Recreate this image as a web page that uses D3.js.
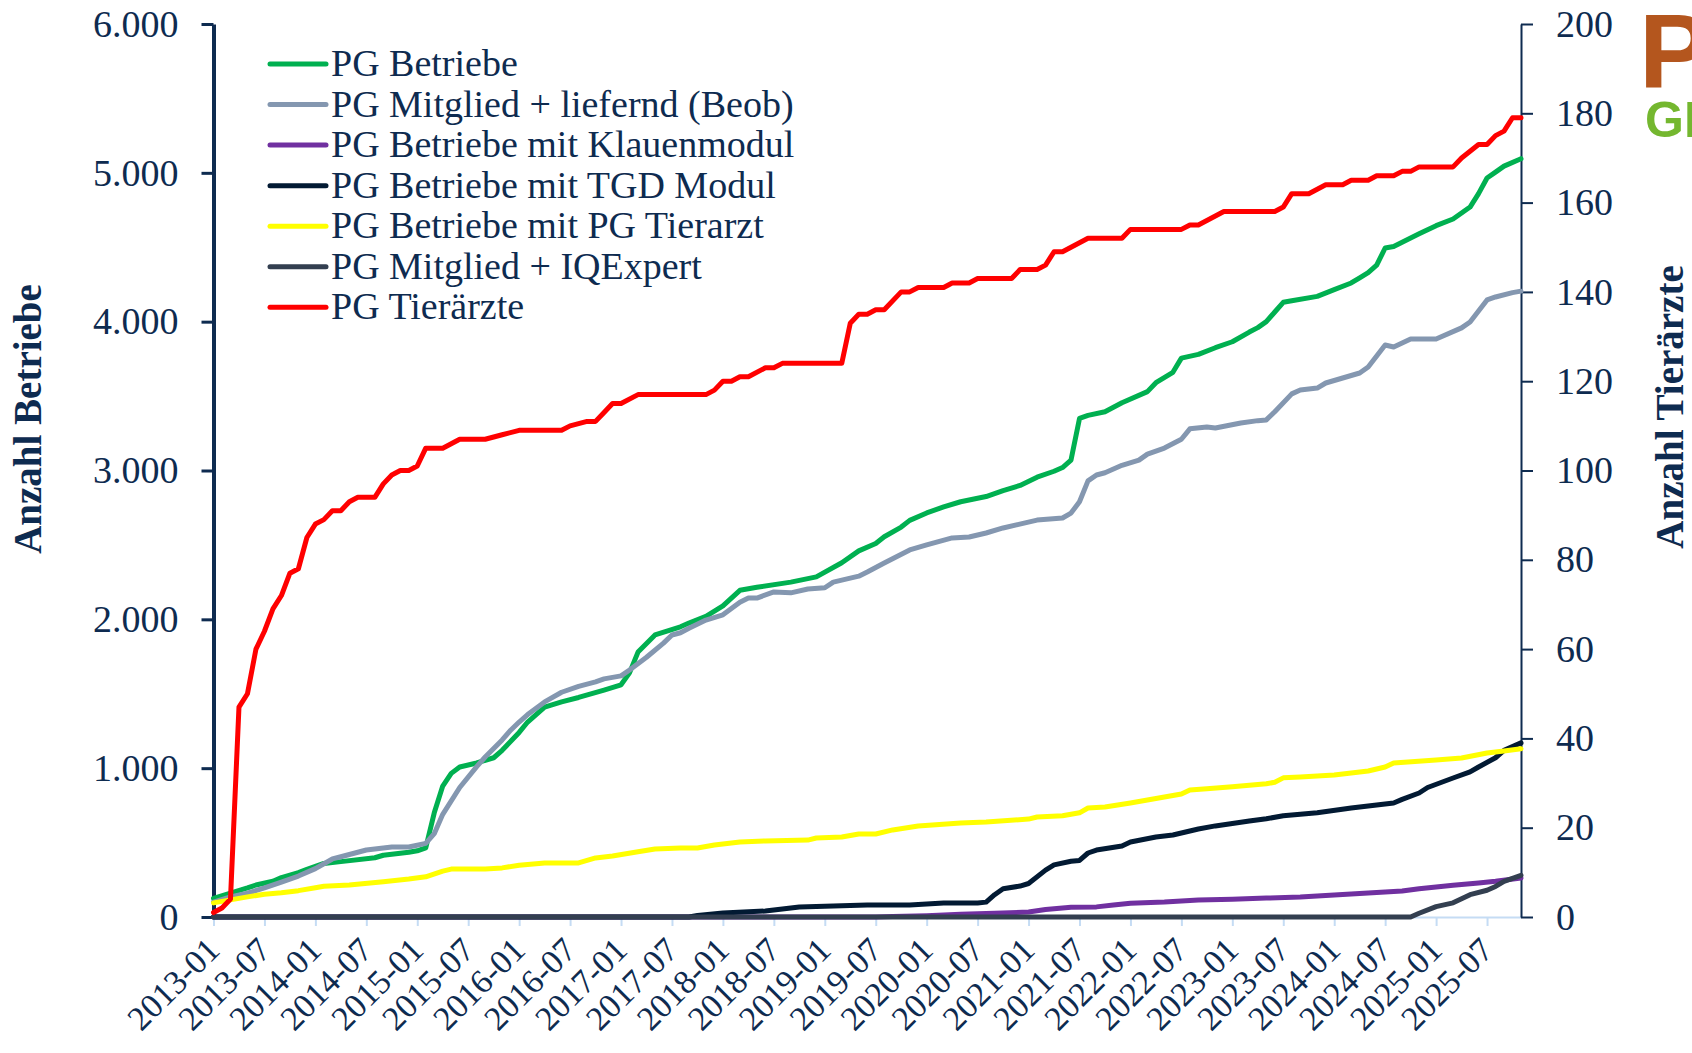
<!DOCTYPE html>
<html>
<head>
<meta charset="utf-8">
<script src="https://cdn.jsdelivr.net/npm/d3@7"></script>
<style>
  html, body { margin: 0; padding: 0; background: #fff; overflow: hidden; }
  svg text { font-family: "Liberation Serif", "Times New Roman", serif; fill: #0e2b50; }
</style>
</head>
<body>
<svg id="chart" width="1692" height="1053"></svg>
<script>
// category range of the x axis (monthly)
var firstMonth = "2013-01", lastMonth = "2025-11";
var tickLabels = ["2013-01","2013-07","2014-01","2014-07","2015-01","2015-07","2016-01","2016-07",
  "2017-01","2017-07","2018-01","2018-07","2019-01","2019-07","2020-01","2020-07","2021-01","2021-07",
  "2022-01","2022-07","2023-01","2023-07","2024-01","2024-07","2025-01","2025-07"];
var leftTicks = [0, 1000, 2000, 3000, 4000, 5000, 6000];
var rightTicks = [0, 20, 40, 60, 80, 100, 120, 140, 160, 180, 200];

// series at the months where the line bends
var pgBetriebe = [["2013-01",125],["2013-03",160],["2013-05",195],["2013-06",215],["2013-08",240],["2013-09",265],
  ["2013-11",298],["2013-12",320],["2014-02",360],["2014-04",372],["2014-08",398],["2014-09",415],["2014-12",435],
  ["2015-01",445],["2015-02",465],["2015-03",700],["2015-04",880],["2015-05",965],["2015-06",1008],["2015-08",1035],
  ["2015-10",1070],["2015-11",1120],["2016-01",1240],["2016-02",1310],["2016-04",1410],["2016-06",1445],["2016-08",1475],
  ["2016-11",1525],["2017-01",1560],["2017-02",1640],["2017-03",1780],["2017-05",1895],["2017-08",1950],["2017-09",1975],
  ["2017-11",2020],["2018-01",2090],["2018-03",2195],["2018-05",2215],["2018-09",2250],["2018-12",2285],["2019-03",2380],
  ["2019-05",2460],["2019-07",2510],["2019-08",2555],["2019-10",2620],["2019-11",2665],["2020-01",2715],["2020-03",2755],
  ["2020-05",2790],["2020-08",2825],["2020-10",2865],["2020-12",2900],["2021-02",2955],["2021-04",2995],["2021-05",3020],
  ["2021-06",3070],["2021-07",3350],["2021-08",3370],["2021-10",3395],["2021-12",3455],["2022-03",3530],["2022-04",3590],
  ["2022-06",3660],["2022-07",3755],["2022-09",3780],["2022-11",3825],["2023-01",3865],["2023-03",3930],["2023-04",3960],
  ["2023-05",4000],["2023-06",4065],["2023-07",4130],["2023-08",4140],["2023-11",4170],["2024-01",4215],["2024-03",4260],
  ["2024-04",4295],["2024-05",4330],["2024-06",4380],["2024-07",4495],["2024-08",4505],["2024-11",4590],["2025-01",4645],
  ["2025-03",4690],["2025-05",4770],["2025-06",4860],["2025-07",4965],["2025-08",5005],["2025-09",5045],["2025-11",5095]];

var pgMitgliedLiefernd = [["2013-01",100],["2013-03",135],["2013-05",160],["2013-07",195],["2013-09",235],["2013-11",275],
  ["2014-01",325],["2014-03",390],["2014-04",405],["2014-07",450],["2014-10",470],["2014-12",470],["2015-02",495],
  ["2015-03",560],["2015-04",690],["2015-06",870],["2015-08",1010],["2015-09",1075],["2015-11",1190],["2015-12",1255],
  ["2016-01",1310],["2016-02",1360],["2016-04",1445],["2016-06",1510],["2016-08",1550],["2016-10",1580],["2016-11",1600],
  ["2017-01",1620],["2017-02",1660],["2017-04",1745],["2017-06",1840],["2017-07",1895],["2017-08",1910],["2017-09",1940],
  ["2017-11",1995],["2018-01",2030],["2018-03",2115],["2018-04",2143],["2018-05",2143],["2018-07",2184],["2018-09",2178],
  ["2018-11",2204],["2019-01",2212],["2019-02",2250],["2019-05",2290],["2019-06",2318],["2019-08",2378],["2019-11",2466],
  ["2020-01",2500],["2020-04",2547],["2020-06",2553],["2020-08",2580],["2020-10",2614],["2021-02",2667],["2021-05",2681],
  ["2021-06",2714],["2021-07",2790],["2021-08",2930],["2021-09",2970],["2021-10",2985],["2021-12",3035],["2022-02",3070],
  ["2022-03",3110],["2022-05",3151],["2022-07",3210],["2022-08",3280],["2022-10",3292],["2022-11",3286],["2023-02",3319],
  ["2023-04",3335],["2023-05",3340],["2023-06",3395],["2023-08",3515],["2023-09",3541],["2023-11",3554],["2023-12",3588],
  ["2024-04",3655],["2024-05",3696],["2024-07",3843],["2024-08",3830],["2024-10",3884],["2025-01",3884],["2025-04",3958],
  ["2025-05",3998],["2025-07",4146],["2025-08",4166],["2025-10",4195],["2025-11",4205]];

var pgKlauenmodul = [["2013-01",0],["2019-07",0],["2019-09",3],["2020-01",8],["2020-05",18],["2020-09",25],["2021-01",33],
  ["2021-03",50],["2021-06",65],["2021-09",68],["2021-11",80],["2022-01",93],["2022-05",100],["2022-09",114],["2023-01",120],
  ["2023-05",127],["2023-09",134],["2024-01",148],["2024-05",161],["2024-09",175],["2024-11",190],["2025-01",202],
  ["2025-03",213],["2025-06",228],["2025-08",240],["2025-11",262]];

var pgTgdModul = [["2013-01",0],["2017-09",0],["2017-10",10],["2018-01",27],["2018-06",40],["2018-10",67],["2019-02",74],
  ["2019-06",81],["2019-11",81],["2020-03",94],["2020-07",94],["2020-08",100],["2020-09",150],["2020-10",190],["2020-12",208],
  ["2021-01",225],["2021-03",315],["2021-04",350],["2021-06",375],["2021-07",380],["2021-08",430],["2021-09",450],
  ["2021-12",477],["2022-01",504],["2022-04",538],["2022-06",551],["2022-08",578],["2022-09",591],["2022-11",612],
  ["2023-01",628],["2023-03",645],["2023-05",660],["2023-07",680],["2023-09",690],["2023-11",700],["2024-03",732],
  ["2024-08",766],["2024-09",790],["2024-11",833],["2024-12",870],["2025-03",934],["2025-05",975],["2025-06",1008],
  ["2025-08",1070],["2025-09",1120],["2025-11",1170]];

var pgTierarztBetriebe = [["2013-01",95],["2013-03",115],["2013-05",135],["2013-07",153],["2013-09",163],["2013-11",177],
  ["2014-01",197],["2014-02",207],["2014-05",215],["2014-09",237],["2014-12",255],["2015-02",270],["2015-04",308],
  ["2015-05",322],["2015-09",322],["2015-11",330],["2016-01",348],["2016-04",363],["2016-08",363],["2016-10",397],
  ["2016-12",410],["2017-03",438],["2017-05",457],["2017-08",464],["2017-10",464],["2017-12",484],["2018-03",504],
  ["2018-06",511],["2018-11",517],["2018-12",531],["2019-03",538],["2019-05",558],["2019-07",558],["2019-09",585],
  ["2019-12",611],["2020-05",632],["2020-08",638],["2021-01",658],["2021-02",672],["2021-05",680],["2021-07",700],
  ["2021-08",732],["2021-10",739],["2022-01",766],["2022-03",786],["2022-05",806],["2022-07",826],["2022-08",853],
  ["2022-10",862],["2023-01",875],["2023-05",895],["2023-06",905],["2023-07",935],["2023-09",941],["2024-01",954],
  ["2024-05",981],["2024-07",1008],["2024-08",1035],["2025-01",1055],["2025-04",1068],["2025-07",1102],["2025-09",1115],
  ["2025-11",1130]];

var pgIqExpert = [["2013-01",0],["2024-10",0],["2024-11",25],["2025-01",70],["2025-03",95],["2025-05",150],["2025-07",180],
  ["2025-08",205],["2025-09",240],["2025-11",280]];

var pgTieraerzte = [["2013-01",1],["2013-02",2],["2013-03",4],["2013-04",47],["2013-05",50],["2013-06",60],["2013-07",64],
  ["2013-08",69],["2013-09",72],["2013-10",77],["2013-11",78],["2013-12",85],["2014-01",88],["2014-02",89],["2014-03",91],
  ["2014-04",91],["2014-05",93],["2014-06",94],["2014-08",94],["2014-09",97],["2014-10",99],["2014-11",100],["2014-12",100],
  ["2015-01",101],["2015-02",105],["2015-04",105],["2015-05",106],["2015-06",107],["2015-09",107],["2015-11",108],
  ["2016-01",109],["2016-06",109],["2016-07",110],["2016-09",111],["2016-10",111],["2016-11",113],["2016-12",115],
  ["2017-01",115],["2017-03",117],["2017-11",117],["2017-12",118],["2018-01",120],["2018-02",120],["2018-03",121],
  ["2018-04",121],["2018-06",123],["2018-07",123],["2018-08",124],["2019-03",124],["2019-04",133],["2019-05",135],
  ["2019-06",135],["2019-07",136],["2019-08",136],["2019-10",140],["2019-11",140],["2019-12",141],["2020-03",141],
  ["2020-04",142],["2020-06",142],["2020-07",143],["2020-11",143],["2020-12",145],["2021-02",145],["2021-03",146],
  ["2021-04",149],["2021-05",149],["2021-08",152],["2021-12",152],["2022-01",154],["2022-07",154],["2022-08",155],
  ["2022-09",155],["2022-12",158],["2023-06",158],["2023-07",159],["2023-08",162],["2023-10",162],["2023-12",164],
  ["2024-02",164],["2024-03",165],["2024-05",165],["2024-06",166],["2024-08",166],["2024-09",167],["2024-10",167],
  ["2024-11",168],["2025-03",168],["2025-04",170],["2025-06",173],["2025-07",173],["2025-08",175],["2025-09",176],
  ["2025-10",179],["2025-11",179]];

var seriesNames = ["PG Betriebe", "PG Mitglied + liefernd (Beob)", "PG Betriebe mit Klauenmodul",
  "PG Betriebe mit TGD Modul", "PG Betriebe mit PG Tierarzt", "PG Mitglied + IQExpert", "PG Tierärzte"];
var seriesColors = ["#00b050", "#8497b0", "#7030a0", "#021a33", "#ffff00", "#333f50", "#ff0000"];
var seriesData = [pgBetriebe, pgMitgliedLiefernd, pgKlauenmodul, pgTgdModul, pgTierarztBetriebe, pgIqExpert, pgTieraerzte];
var seriesAxis = ["left", "left", "left", "left", "left", "left", "right"];

var navy = "#0e2b50";
var monthIndex = function (s) {
  var p = s.split("-");
  return (+p[0] - +firstMonth.slice(0, 4)) * 12 + (+p[1] - 1);
};

var svg = d3.select("#chart");
var x = d3.scaleLinear().domain([0, monthIndex(lastMonth)]).range([213.5, 1521]);
var yL = d3.scaleLinear().domain([0, 6000]).range([917, 24]);
var yR = d3.scaleLinear().domain([0, 200]).range([917, 24]);
var de = d3.formatLocale({decimal: ",", thousands: ".", grouping: [3], currency: ["", " €"]});

// x axis: light blue line and ticks, slanted labels
var xAxis = d3.axisBottom(x)
  .tickValues(tickLabels.map(monthIndex))
  .tickSize(9).tickSizeOuter(0)
  .tickFormat(function (d, i) { return tickLabels[i]; });
var gx = svg.append("g").attr("transform", "translate(0,917)").call(xAxis);
gx.select(".domain").attr("stroke", "#c5dcf4").attr("stroke-width", 2);
gx.selectAll(".tick line").attr("stroke", "#c5dcf4").attr("stroke-width", 2);
gx.selectAll(".tick text")
  .attr("x", 0).attr("y", 0).attr("dy", 0)
  .attr("text-anchor", "end")
  .attr("transform", "translate(7.5,35) rotate(-45)")
  .style("font-size", "34px").attr("fill", navy);

// left axis
var gl = svg.append("g").attr("transform", "translate(213.5,0)")
  .call(d3.axisLeft(yL).tickValues(leftTicks).tickSize(12).tickSizeOuter(0).tickPadding(23).tickFormat(de.format(",d")));
gl.select(".domain").attr("stroke", navy).attr("stroke-width", 4);
gl.selectAll(".tick line").attr("stroke", navy).attr("stroke-width", 3);
gl.selectAll(".tick text").style("font-size", "38px").attr("fill", navy);

// right axis
var gr = svg.append("g").attr("transform", "translate(1521,0)")
  .call(d3.axisRight(yR).tickValues(rightTicks).tickSize(12).tickSizeOuter(0).tickPadding(23));
gr.select(".domain").attr("stroke", navy).attr("stroke-width", 2);
gr.selectAll(".tick line").attr("stroke", navy).attr("stroke-width", 2);
gr.selectAll(".tick text").style("font-size", "38px").attr("fill", navy);

// axis titles
svg.append("text").attr("transform", "translate(41,419) rotate(-90)")
  .attr("text-anchor", "middle").style("font-size", "39px").style("font-weight", "bold")
  .text("Anzahl Betriebe");
svg.append("text").attr("transform", "translate(1683,407) rotate(-90)")
  .attr("text-anchor", "middle").style("font-size", "39px").style("font-weight", "bold")
  .text("Anzahl Tierärzte");

// lines
seriesData.forEach(function (data, i) {
  var y = seriesAxis[i] === "right" ? yR : yL;
  var line = d3.line()
    .x(function (d) { return x(monthIndex(d[0])); })
    .y(function (d) { return y(d[1]); });
  svg.append("path").datum(data)
    .attr("d", line)
    .attr("fill", "none")
    .attr("stroke", seriesColors[i])
    .attr("stroke-width", 5)
    .attr("stroke-linejoin", "round")
    .attr("stroke-linecap", "round");
});

// legend
var legend = svg.append("g").attr("transform", "translate(270,64)");
var items = legend.selectAll("g").data(seriesNames).enter().append("g")
  .attr("transform", function (d, i) { return "translate(0," + (i * 40.55) + ")"; });
items.append("line").attr("x1", 0).attr("x2", 56).attr("y1", 0).attr("y2", 0)
  .attr("stroke", function (d, i) { return seriesColors[i]; })
  .attr("stroke-width", 5).attr("stroke-linecap", "round");
items.append("text").attr("x", 61).attr("y", 12).style("font-size", "38px").text(function (d) { return d; });

// logo (cut at the right edge, as in the source)
var logo = svg.append("g").attr("class", "logo");
logo.append("text").attr("x", 1639).attr("y", 88)
  .style("font-family", "'Liberation Sans', Arial, sans-serif").style("font-weight", "bold")
  .style("font-size", "106px").style("fill", "#b4561e").text("P");
logo.append("text").attr("x", 1645).attr("y", 137)
  .style("font-family", "'Liberation Sans', Arial, sans-serif").style("font-weight", "bold")
  .style("font-size", "50px").style("fill", "#74b72f").text("GI");
</script>
</body>
</html>
